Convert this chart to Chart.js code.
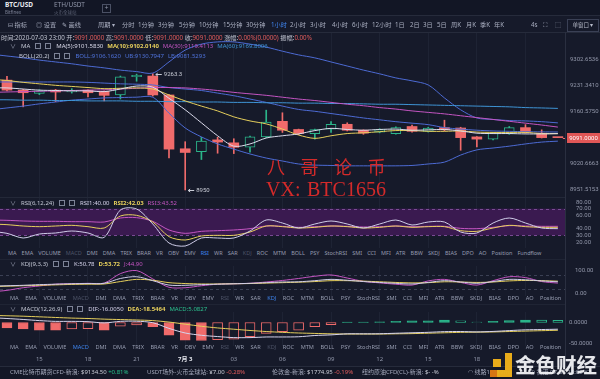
<!DOCTYPE html>
<html><head><meta charset="utf-8">
<script src="https://cdn.jsdelivr.net/npm/chart.js@4.4.1/dist/chart.umd.min.js"></script>
<style>
html,body{margin:0;padding:0;width:600px;height:379px;overflow:hidden;background:#161a2a;font-family:"Noto Sans","Noto Sans CJK SC",sans-serif;color:#a3a8ba}
.a{position:absolute;white-space:nowrap;line-height:1}
canvas{position:absolute;left:0}
.ln{position:absolute;background:#232838}
.ic{display:inline-block;width:6px;height:6px;border:1px solid #7d8397;margin-right:4px;vertical-align:-1px;box-sizing:border-box}
.ch{display:inline-block;margin-right:5px;color:#8d93a6}
.wm{position:absolute;color:#d42a2a;white-space:nowrap;line-height:1}
.tb span{position:absolute;top:0}
</style></head><body>
<div class="ln" style="left:0;top:0;width:600px;height:15px;background:#121625"></div>
<div class="ln" style="left:0;top:15px;width:600px;height:1px;background:#262b3b"></div>
<div class="ln" style="left:0;top:32px;width:600px;height:1px;background:#262b3b"></div>
<div class="ln" style="left:0;top:366px;width:600px;height:13px;background:#131726"></div>
<div class="ln" style="left:0;top:366px;width:600px;height:1px;background:#262b3b"></div>

<canvas id="cMain" width="600" height="164" style="top:33px"></canvas>
<canvas id="cRsi" width="600" height="50" style="top:198px"></canvas>
<canvas id="cKdj" width="600" height="30" style="top:266px"></canvas>
<canvas id="cMacd" width="600" height="34" style="top:312px"></canvas>
<canvas id="cTime" width="600" height="13" style="top:356px"></canvas>

<div class="ln" style="left:0;top:197px;width:565px;height:1px"></div>
<div class="ln" style="left:0;top:259px;width:565px;height:1px;background:#1f2434"></div>
<div class="ln" style="left:0;top:304px;width:565px;height:1px;background:#1f2434"></div>
<div class="ln" style="left:565px;top:32px;width:1px;height:334px;background:#2a2f40"></div>

<!-- tabs -->
<div class="a" style="left:5px;top:2px;font-size:6.5px;color:#e8eaf0;font-weight:bold">BTC/USD</div>
<div class="a" style="left:5px;top:9.5px;font-size:4.5px;color:#7d8397">Bitfinex</div>
<div class="a" style="left:54px;top:2px;font-size:6.5px;color:#8f95a8">ETH/USDT</div>
<div class="a" style="left:54px;top:9.5px;font-size:4.5px;color:#5d6376">火币全球站</div>
<div class="a" style="left:102px;top:4px;width:7px;height:7px;border:1px solid #4a5064;font-size:7px;color:#8f95a8;text-align:center;line-height:6px">+</div>

<!-- toolbar -->
<div class="a tb" id="tb" style="left:0;top:22px;font-size:6.2px;color:#a9aec0"></div>
<div class="a" style="left:567px;top:19px;width:30px;height:11px;border:1px solid #3a4055;font-size:5.5px;color:#b9bdcb;line-height:10px;text-align:center">单窗口 ▾</div>

<!-- info row -->
<div class="a" id="info" style="left:1px;top:35px;font-size:6.2px;color:#c0c4d0"></div>

<!-- watermark -->
<div class="wm" style="left:267px;top:157px;font-size:18px;font-family:'Noto Sans CJK SC';letter-spacing:15.5px">八哥论币</div>
<div class="wm" style="left:266px;top:179px;font-size:20px;font-family:'Liberation Serif','DejaVu Serif',serif">VX:</div>
<div class="wm" style="left:307px;top:179px;font-size:20px;font-family:'Liberation Serif','DejaVu Serif',serif">BTC1656</div>

<!-- bottom ticker -->
<div class="a" style="left:10px;top:369px;font-size:6px;color:#a3a8ba">CME比特币期货CFD-新浪: <span style="color:#c9ccd6">$9134.50</span> <span style="color:#27c08a">+0.81%</span></div>
<div class="a" style="left:147px;top:369px;font-size:6px;color:#a3a8ba">USDT场外-火币全球站: <span style="color:#c9ccd6">¥7.00</span> <span style="color:#e25c5c">-0.28%</span></div>
<div class="a" style="left:272px;top:369px;font-size:6px;color:#a3a8ba">伦敦金-新浪: <span style="color:#c9ccd6">$1774.95</span> <span style="color:#e25c5c">-0.19%</span></div>
<div class="a" style="left:362px;top:369px;font-size:6px;color:#a3a8ba">纽约原油CFD(CL)-新浪: <span style="color:#c9ccd6">$- -%</span></div>
<div class="a" style="left:468px;top:369px;font-size:6px;color:#a3a8ba">◠ 线路1: <span style="color:#27c08a">119ms</span></div>
<div class="a" style="left:530px;top:369px;font-size:6px;color:#a3a8ba">◷ 香港 07-03 23:00 X2</div>

<!-- logo -->
<div style="position:absolute;left:490px;top:353px;width:23px;height:24px;opacity:0.95">
 <div style="position:absolute;left:15px;top:0;width:7px;height:17px;background:#f4b41a"></div>
 <div style="position:absolute;left:0;top:17px;width:22px;height:7px;background:#f4b41a"></div>
 <div style="position:absolute;left:3px;top:6px;width:8px;height:8px;background:#f4b41a"></div>
 <div style="position:absolute;left:0;top:17px;width:7px;height:7px;background:#e07b12"></div>
</div>
<div class="a" style="left:515px;top:354px;font-size:20.5px;font-weight:bold;color:#f2f3f6;font-family:'Noto Sans CJK SC';opacity:0.95">金色财经</div>

<script>
// ---------- data ----------
const candleOpen  = [9246, 9219, 9210, 9219, 9214, 9219, 9216, 9206, 9255, 9257, 9206, 9061, 9053, 9085, 9077, 9065, 9093, 9135, 9113, 9102, 9114, 9127, 9111, 9106, 9102, 9121, 9108, 9118, 9117, 9093, 9087, 9102, 9118, 9103, 9091];
const candleHigh  = [9256, 9221, 9220, 9221, 9223, 9220, 9217, 9257, 9262, 9263.3, 9207, 9080, 9092, 9092, 9088, 9095, 9165, 9158, 9114, 9114, 9134, 9131, 9112, 9115, 9120, 9125, 9119, 9138, 9119, 9094, 9104, 9121, 9126, 9112, 9091];
const candleLow   = [9217, 9174, 9207, 9188, 9211, 9201, 9190, 9195, 9243, 9203, 9036, 8950, 9032, 9049, 9048, 9052, 9091, 9105, 9099, 9087, 9105, 9109, 9100, 9104, 9100, 9106, 9106, 9109, 9057, 9066, 9085, 9100, 9103, 9090, 9091];
const candleClose = [9219, 9212, 9217, 9214, 9218, 9212, 9205, 9255, 9259, 9206, 9060, 9051, 9082, 9079, 9065, 9093, 9133, 9111, 9102, 9113, 9127, 9111, 9103, 9113, 9118, 9108, 9117, 9112, 9091, 9087, 9103, 9118, 9105, 9091, 9091];

// indicator series start one hour before the first visible candle (index -1)
const ma5  = [9225, 9225, 9222, 9219, 9218, 9217, 9217, 9215, 9222, 9230, 9227, 9197, 9166, 9131, 9096, 9068, 9074, 9090, 9096, 9101, 9110, 9116, 9113, 9111, 9113, 9114, 9111, 9112, 9113, 9109, 9103, 9102, 9102, 9101, 9101, 9101.583];
const ma10 = [9248, 9245, 9240, 9236, 9232, 9229, 9226, 9223, 9224, 9225, 9222, 9206, 9190, 9176, 9163, 9147, 9136, 9128, 9114, 9098, 9089, 9096, 9102, 9104, 9107, 9110, 9110, 9108, 9108, 9109, 9106, 9105, 9105, 9105, 9102, 9102.014];
const ma30 = [9213, 9214, 9215, 9216, 9217, 9218, 9219, 9220, 9222, 9224, 9226, 9226, 9225, 9222, 9218, 9213, 9209, 9205, 9200, 9195, 9191, 9186, 9181, 9177, 9172, 9168, 9163, 9159, 9155, 9150, 9145, 9140, 9135, 9130, 9125, 9119.4113];
const ma60 = [9193, 9193, 9192, 9192, 9191, 9191, 9190, 9190, 9190, 9189, 9189, 9188, 9188, 9187, 9187, 9186, 9186, 9185, 9185, 9184, 9184, 9183, 9183, 9182, 9181, 9181, 9180, 9179, 9178, 9177, 9176, 9175, 9174, 9172, 9171, 9169.8006];
const bollMid = [9241, 9241, 9241, 9241, 9241, 9241, 9240, 9238, 9236, 9235, 9233, 9226, 9222, 9218, 9211, 9204, 9195, 9186, 9176, 9167, 9162, 9156, 9150, 9144, 9139, 9134, 9130, 9126, 9118, 9114, 9111, 9109, 9108, 9107, 9106.5, 9106.162];
const bollUp  = [9316, 9311, 9306, 9300, 9295, 9290, 9284, 9279, 9273, 9269, 9265, 9295, 9327, 9343, 9349, 9349, 9343, 9335, 9324, 9314, 9306, 9295, 9284, 9273, 9263, 9252, 9244, 9233, 9198, 9166, 9144, 9140, 9137, 9136, 9134, 9130.7947];
const bollLow = [9166, 9171, 9176, 9182, 9187, 9192, 9195, 9198, 9199, 9200, 9200, 9157, 9117, 9093, 9074, 9060, 9047, 9036, 9028, 9020, 9017, 9016, 9015, 9015, 9015, 9015, 9016, 9020, 9025, 9044, 9058, 9063, 9068, 9074, 9079, 9081.5293];

const rsi1 = [36, 33, 26, 32, 33.5, 36.5, 33.5, 27, 68, 69.5, 47, 18.5, 14, 26, 26, 26, 36.5, 53, 48.5, 41, 47, 51.5, 47, 41, 47, 53, 45.5, 50, 50, 35, 33.5, 48.5, 56, 48.5, 41, 40.00];
const rsi2 = [47, 46, 44, 43, 44, 45, 43, 41, 59, 60, 50, 28, 23, 29, 30, 30, 35, 44, 43, 41, 42, 44, 43, 41, 42, 44, 42, 43, 43, 37, 36, 41, 45, 43, 42, 42.03];
const rsi3 = [53, 52.5, 51.5, 51, 51, 50.5, 50.5, 50, 56, 56.5, 51, 38, 33, 36, 37, 38, 40, 44, 43.5, 42, 43, 44, 43.5, 42.5, 43, 44, 43, 43.5, 43.5, 40.5, 40, 42, 44.5, 44, 43.5, 43.52];

const kdjK = [31, 33, 35, 38, 40, 42, 43, 44, 66, 74, 56, 36, 35, 38, 40, 42, 44, 47, 50, 51, 56, 62, 58, 52, 48, 44, 41, 48, 56, 50, 44, 52, 62, 60, 55, 50.78];
const kdjD = [29, 31, 33, 35, 37, 39, 40, 41, 52, 62, 58, 47, 43, 41, 41, 42, 43, 45, 47, 49, 52, 56, 56, 54, 51, 48, 46, 47, 51, 50, 48, 50, 55, 57, 56, 53.72];
const kdjJ = [5, 12, 24, 32, 40, 42, 44, 45, 88, 102, 64, 26, 24, 33, 40, 42, 44, 50, 57, 66, 76, 82, 68, 53, 46, 40, 36, 55, 62, 48, 36, 56, 74, 70, 52, 44.90];

const macdDif  = [11.5, 9.5, 7.2, 4.5, 2.7, 2.7, 2, -1, 2.7, 3, -0.5, -14, -25, -30.5, -33.5, -36, -36, -34.5, -34.5, -34, -31, -29.5, -27, -27, -26.8, -25.6, -24.5, -23.4, -21.8, -21.5, -22.4, -21.3, -19.3, -17.5, -16.8, -16.005];
const macdDea  = [17, 16, 15, 13.5, 12, 10.5, 9.5, 8, 7, 6, 4.5, 1, -4, -9, -13, -16, -19, -21.5, -23.5, -25, -26, -27, -27.5, -27.5, -27.5, -27, -26.5, -25.5, -24.5, -23.5, -23, -22.5, -21.5, -20.5, -19.5, -18.5464];
const macdHist = [-11, -13, -15.5, -18, -18.5, -15.5, -15, -18, -8.5, -6, -10, -30, -42, -43, -41, -40, -34, -26, -22, -18, -10, -5, 0.8, 1, 1.5, 2.8, 4, 4.2, 5.5, 4, 1.2, 2.5, 4.5, 6, 5.5, 5.0827];

const priceTicks = [9302.6536, 9231.3410, 9160.5750, 9020.6663, 8951.5153];
const rsiTicks = [80, 70, 60, 40, 30, 20];
const rsiBand = [30, 70];
const kdjTicks = [100, 0];
const kdjLevels = [80, 20];
const macdTicks = [0, -50];
const timeTickIdx = [2, 5, 8, 11, 14, 17, 20, 23, 26, 29, 32];
const timeLabels = ['15', '18', '21', '7月 3', '03', '06', '09', '12', '15', '18', '21'];

// ---------- styling ----------
const BG = '#161a2a', UP = '#2bb58a', DN = '#f06b6b';
const C_MA5 = '#dcdcec', C_MA10 = '#e6cf5c', C_MA30 = '#c455c2', C_MA60 = '#3f95d6', C_BOLL = '#4d6bd4';
const X0 = -0.43, X1 = 34.44;
Chart.defaults.animation = false;
Chart.defaults.responsive = false;
Chart.defaults.events = [];
Chart.defaults.plugins.legend.display = false;
Chart.defaults.plugins.tooltip.enabled = false;
Chart.defaults.font.family = 'Roboto, "Noto Sans", sans-serif';

function xAxis() {
  return {type: 'linear', min: X0, max: X1, offset: false,
    afterBuildTicks: s => { s.ticks = timeTickIdx.map(v => ({value: v})); },
    ticks: {display: false}, grid: {color: '#1e2334', drawTicks: false, offset: false}, border: {display: false}};
}
function yAxis(min, max, vals, dec, pad) {
  return {type: 'linear', position: 'right', min, max,
    afterBuildTicks: s => { s.ticks = vals.map(v => ({value: v})); },
    afterFit: s => { s.width = 35; s.paddingTop = 0; s.paddingBottom = 0; },
    ticks: {color: '#9297aa', font: {size: 6}, padding: pad, autoSkip: false, callback: v => Number(v).toFixed(dec)},
    grid: {display: false, drawTicks: false}, border: {display: false}};
}
const pts = arr => arr.map((v, k) => ({x: k - 1, y: v}));
function line(arr, color, order) {
  return {type: 'line', data: pts(arr), borderColor: color, borderWidth: 1, pointRadius: 0, tension: 0.3, order: order || 0};
}

// ---------- main chart ----------
const isUp = candleClose.map((c, i) => c > candleOpen[i]);
const mainPlugin = {
  id: 'mainExtras',
  afterDatasetsDraw(c) {
    const {ctx, scales: {x, y}, chartArea} = c;
    ctx.save();
    ctx.font = '6px Roboto';
    ctx.fillStyle = '#c9ccd6'; ctx.strokeStyle = '#c9ccd6'; ctx.lineWidth = 1;
    ctx.textBaseline = 'middle';
    const hiV = Math.max(...candleHigh), hiI = candleHigh.indexOf(hiV);
    const loV = Math.min(...candleLow), loI = candleLow.indexOf(loV);
    [[hiI, hiV], [loI, loV]].forEach(([i, v]) => {
      const px = x.getPixelForValue(i) + 3, py = Math.round(y.getPixelForValue(v)) + 0.5;
      ctx.beginPath(); ctx.moveTo(px, py); ctx.lineTo(px + 6, py); ctx.stroke();
      ctx.beginPath(); ctx.moveTo(px, py); ctx.lineTo(px + 2, py - 1.5); ctx.moveTo(px, py); ctx.lineTo(px + 2, py + 1.5); ctx.stroke();
      ctx.fillText(String(v), px + 8, py);
    });
    const last = candleClose.length - 1, lp = candleClose[last];
    const py = Math.round(y.getPixelForValue(lp)) + 0.5;
    ctx.strokeStyle = DN;
    ctx.beginPath(); ctx.moveTo(x.getPixelForValue(last) + 5, py); ctx.lineTo(chartArea.right, py); ctx.stroke();
    ctx.restore();
  },
  afterDraw(c) {
    const {ctx, scales: {y}, chartArea} = c;
    const lp = candleClose[candleClose.length - 1];
    const py = Math.round(y.getPixelForValue(lp));
    ctx.save();
    ctx.fillStyle = '#e05656';
    ctx.fillRect(chartArea.right + 2, py - 5, 33, 10);
    ctx.fillStyle = '#ffffff'; ctx.font = '6px Roboto'; ctx.textAlign = 'center'; ctx.textBaseline = 'middle';
    ctx.fillText(lp.toFixed(4), chartArea.right + 18.5, py + 0.5);
    ctx.restore();
  }
};
new Chart(document.getElementById('cMain'), {
  type: 'bar',
  data: {datasets: [
    line(ma5, C_MA5), line(ma10, C_MA10), line(ma30, C_MA30), line(ma60, C_MA60),
    line(bollMid, C_BOLL), line(bollUp, C_BOLL), line(bollLow, C_BOLL),
    {type: 'bar', order: 1, grouped: false, barThickness: 10, minBarLength: 1,
      data: candleOpen.map((o, i) => ({x: i, y: [o, candleClose[i]]})),
      backgroundColor: isUp.map(u => u ? BG : DN), borderColor: isUp.map(u => u ? UP : DN),
      borderWidth: isUp.map(u => u ? 1 : 0), borderSkipped: false},
    {type: 'bar', order: 2, grouped: false, barThickness: 1,
      data: candleLow.map((l, i) => ({x: i, y: [l, candleHigh[i]]})),
      backgroundColor: isUp.map(u => u ? UP : DN), borderWidth: 0}
  ]},
  options: {layout: {padding: 0}, scales: {x: xAxis(), y: yAxis(8931, 9373, priceTicks, 4, 5)}},
  plugins: [mainPlugin]
});

// ---------- RSI ----------
const bandPlugin = {
  id: 'band',
  beforeDatasetsDraw(c) {
    const {ctx, scales: {y}, chartArea} = c;
    const t = y.getPixelForValue(rsiBand[1]), b = y.getPixelForValue(rsiBand[0]);
    ctx.save();
    ctx.fillStyle = '#3a1a50';
    ctx.fillRect(chartArea.left, t, chartArea.right - chartArea.left, b - t);
    ctx.strokeStyle = '#7a4a94'; ctx.setLineDash([3, 3]); ctx.lineWidth = 1;
    [t, b].forEach(p => { ctx.beginPath(); ctx.moveTo(chartArea.left, Math.round(p) + 0.5); ctx.lineTo(chartArea.right, Math.round(p) + 0.5); ctx.stroke(); });
    ctx.restore();
  }
};
new Chart(document.getElementById('cRsi'), {
  type: 'line',
  data: {datasets: [line(rsi1, '#cfcde8'), line(rsi2, C_MA10), line(rsi3, C_MA30)]},
  options: {scales: {x: xAxis(), y: yAxis(11, 86, rsiTicks, 2, 11)}},
  plugins: [bandPlugin]
});

// ---------- KDJ ----------
const kdjPlugin = {
  id: 'kdjLevels',
  beforeDatasetsDraw(c) {
    const {ctx, scales: {y}, chartArea} = c;
    ctx.save(); ctx.strokeStyle = '#3b4054'; ctx.setLineDash([3, 3]); ctx.lineWidth = 1;
    kdjLevels.forEach(v => { const p = Math.round(y.getPixelForValue(v)) + 0.5; ctx.beginPath(); ctx.moveTo(chartArea.left, p); ctx.lineTo(chartArea.right, p); ctx.stroke(); });
    ctx.restore();
  }
};
new Chart(document.getElementById('cKdj'), {
  type: 'line',
  data: {datasets: [line(kdjK, '#cfcde8'), line(kdjD, C_MA10), line(kdjJ, C_MA30)]},
  options: {scales: {x: xAxis(), y: yAxis(-13.6, 122.7, kdjTicks, 2, 10)}},
  plugins: [kdjPlugin]
});

// ---------- MACD ----------
const histHollow = macdHist.map((v, k) => k > 0 && Math.sign(v) === Math.sign(macdHist[k - 1]) && Math.abs(v) < Math.abs(macdHist[k - 1]));
const histCol = macdHist.map(v => v >= 0 ? UP : DN);
new Chart(document.getElementById('cMacd'), {
  type: 'bar',
  data: {datasets: [
    line(macdDif, '#d6d4ec'), line(macdDea, C_MA10),
    {type: 'bar', order: 1, grouped: false, barThickness: 10,
      data: macdHist.map((v, k) => ({x: k - 1, y: v})),
      backgroundColor: histHollow.map((h, k) => h ? BG : histCol[k]),
      borderColor: histCol, borderWidth: 1, borderSkipped: false}
  ]},
  options: {scales: {x: xAxis(), y: yAxis(-56, 25, macdTicks, 4, 4)}}
});

// ---------- time axis ----------
const isBig = v => timeLabels[timeTickIdx.indexOf(v)].length > 2;
new Chart(document.getElementById('cTime'), {
  type: 'line',
  data: {datasets: []},
  options: {layout: {padding: {right: 35}},
    scales: {
      x: {type: 'linear', min: X0, max: X1, position: 'top', offset: false,
        afterBuildTicks: s => { s.ticks = timeTickIdx.map(v => ({value: v})); },
        afterFit: s => { s.paddingLeft = 0; s.paddingRight = 0; },
        ticks: {autoSkip: false, maxRotation: 0, padding: 0,
          callback: v => timeLabels[timeTickIdx.indexOf(v)],
          color: c => (c.tick && isBig(c.tick.value)) ? '#e6e8ef' : '#8f95a8',
          font: c => ({size: 6, family: '"Noto Sans","Noto Sans CJK SC",sans-serif', weight: (c.tick && isBig(c.tick.value)) ? 'bold' : 'normal'})},
        grid: {display: false, drawTicks: false}, border: {display: false}},
      y: {display: false, min: 0, max: 1}
    }}
});

// ---------- UI text ----------
const tbItems = [['分时',122],['1分钟',138],['3分钟',158],['5分钟',179],['10分钟',199],['15分钟',223],['30分钟',246],['1小时',271],['2小时',290],['3小时',310],['4小时',332],['6小时',352],['12小时',372],['1日',395],['2日',410],['3日',423],['5日',437],['周K',451],['月K',466],['季K',480],['年K',494],['4s',531]];
let tb = '<span style="left:8px">⊟ 指标</span><span style="left:36px">◎ 设置</span><span style="left:62px">✎ 画线</span><span style="left:98px">周期 ▾</span>';
tbItems.forEach(([t, x]) => { tb += `<span style="left:${x}px;${t === '1小时' ? 'color:#3f86f0' : ''}">${t}</span>`; });
tb += '<span style="left:543px">⛶</span><span style="left:555px">⬚</span>';
document.getElementById('tb').innerHTML = tb;

const R = '#e25c5c';
document.getElementById('info').innerHTML =
  `时间:2020-07-03 23:00 开:<span style="color:${R}">9091.0000</span> 高:<span style="color:${R}">9091.0000</span> 低:<span style="color:${R}">9091.0000</span> 收:<span style="color:${R}">9091.0000</span> 涨幅:<span style="color:${R}">0.00%(0.0000)</span> 振幅:<span style="color:${R}">0.00%</span>`;

const lastOf = a => a[a.length - 1];
function legendRow(top, left, name, items, chev) {
  const d = document.createElement('div');
  d.className = 'a';
  d.style.cssText = `left:${left}px;top:${top}px;font-size:6px`;
  d.innerHTML = (chev ? '<span class="ch">∨</span>' : '') +
    `<span style="color:#c3c7d4;margin-right:5px">${name}</span><span class="ic"></span><span class="ic" style="margin-right:5px"></span>` +
    items.map(([t, c, b]) => `<span style="color:${c};margin-right:4px;${b ? 'font-weight:bold' : ''}">${t}</span>`).join('');
  document.body.appendChild(d);
}
legendRow(43, 10, 'MA', [
  ['MA(5):' + lastOf(ma5).toFixed(4), C_MA5], ['MA(10):' + lastOf(ma10).toFixed(4), C_MA10, 1],
  ['MA(30):' + lastOf(ma30).toFixed(4), C_MA30], ['MA(60):' + lastOf(ma60).toFixed(4), C_MA60]], true);
legendRow(53, 19, 'BOLL(20,2)', [
  ['BOLL:' + lastOf(bollMid).toFixed(4), '#4f73dc'], ['UB:' + lastOf(bollUp).toFixed(4), '#4f73dc'], ['LB:' + lastOf(bollLow).toFixed(4), '#4f73dc']], false);
legendRow(200, 10, 'RSI(6,12,24)', [
  ['RSI1:' + lastOf(rsi1).toFixed(2), '#d6d4ec'], ['RSI2:' + lastOf(rsi2).toFixed(2), C_MA10, 1], ['RSI3:' + lastOf(rsi3).toFixed(2), C_MA30]], true);
legendRow(261, 10, 'KDJ(9,3,3)', [
  ['K:' + lastOf(kdjK).toFixed(2), '#d6d4ec'], ['D:' + lastOf(kdjD).toFixed(2), C_MA10, 1], ['J:' + lastOf(kdjJ).toFixed(2), C_MA30]], true);
legendRow(306, 10, 'MACD(12,26,9)', [
  ['DIF:' + lastOf(macdDif).toFixed(4), '#d6d4ec'], ['DEA:' + lastOf(macdDea).toFixed(4), C_MA10, 1], ['MACD:' + lastOf(macdHist).toFixed(4), '#2bc08e']], true);

const menuNames = ['MA','EMA','VOLUME','MACD','DMI','DMA','TRIX','BRAR','VR','OBV','EMV','RSI','WR','SAR','KDJ','ROC','MTM','BOLL','PSY','StochRSI','SMI','CCI','MFI','ATR','BBW','SKDJ','BIAS','DPO','AO','Position','Fundflow'];
function menuRow(top, left, gap, fs, active, dims) {
  const d = document.createElement('div');
  d.className = 'a';
  d.style.cssText = `left:0;top:${top}px;width:565px;overflow:hidden;font-size:${fs}px;padding-left:${left}px;box-sizing:border-box`;
  d.innerHTML = menuNames.map(n => `<span style="margin-right:${gap}px;color:${n === active ? '#3f86f0' : dims.includes(n) ? '#4e5468' : '#969cb0'}">${n}</span>`).join('');
  document.body.appendChild(d);
}
menuRow(251, 8, 5.1, 5.5, 'RSI', ['MACD', 'KDJ']);
menuRow(296, 10, 6.5, 5.6, 'KDJ', ['MACD', 'RSI']);
menuRow(345, 10, 6.5, 5.6, 'MACD', ['RSI', 'KDJ']);
</script>
</body></html>
